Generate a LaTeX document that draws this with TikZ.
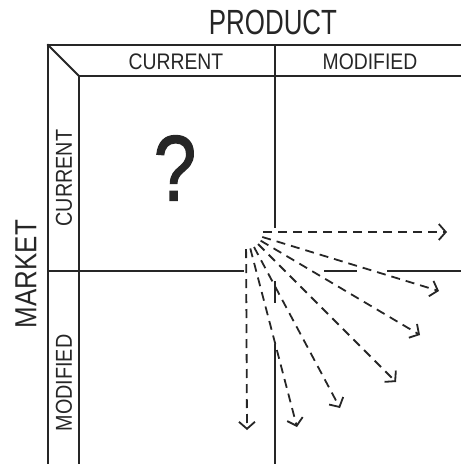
\documentclass[tikz,border=0pt]{standalone}
\usepackage{fontspec}
\setmainfont{Liberation Sans}
\newfontfamily\qfont[FakeBold=1.6]{Liberation Sans}
\usetikzlibrary{arrows.meta,calc}
\definecolor{ink}{HTML}{262626}
\begin{document}
\begin{tikzpicture}[x=1pt,y=-1pt,
  grid/.style={draw=ink,line width=2pt,line cap=rect},
  lbl/.style={text=ink,inner sep=0pt,anchor=center},
  fan/.style={draw=ink,line width=1.8pt,dash pattern=on 9pt off 6pt,
    -{Straight Barb[length=7pt,width=16pt,line width=1.8pt]}}]
\useasboundingbox (0,0) rectangle (461,464);
% frame coordinates
\coordinate (otl) at (48,45);
\coordinate (otr) at (461,45);
\coordinate (obl) at (48,464);
\coordinate (itl) at (79,76);
\coordinate (itr) at (461,76);
\coordinate (ibl) at (79,464);
\coordinate (ct) at (275,45);
\coordinate (cb) at (275,464);
\coordinate (c1) at (275,227);
\coordinate (c2) at (275,282);
\coordinate (c3) at (275,302);
\coordinate (c4) at (275,345);
\coordinate (rl) at (48,271);
\coordinate (rr) at (461,271);
\coordinate (r1) at (243,271);
\coordinate (r2) at (325,271);
\coordinate (r3) at (356,271);
\coordinate (r4) at (388,271);
\draw[grid] (obl) -- (otl) -- (otr);
\draw[grid] (ibl) -- (itl) -- (itr);
\draw[grid] (otl) -- (itl);
\draw[grid] (ct) -- (c1);
\draw[grid] (c2) -- (c3);
\draw[grid] (c4) -- (cb);
\draw[grid] (rl) -- (r1);
\draw[grid] (r2) -- (r3);
\draw[grid] (r4) -- (rr);
% labels
\node[lbl] (product) at (273,22) {\scalebox{0.74}[1]{\fontsize{35}{40}\selectfont PRODUCT}};
\node[lbl,rotate=90] (market) at (26,274) {\scalebox{0.85}[1]{\fontsize{30.5}{34}\selectfont MARKET}};
\node[lbl] (pcur) at (176,62) {\scalebox{0.86}[1]{\fontsize{22.5}{26}\selectfont CURRENT}};
\node[lbl] (pmod) at (370,62) {\scalebox{0.86}[1]{\fontsize{22.5}{26}\selectfont MODIFIED}};
\node[lbl,rotate=90] (mcur) at (64,178) {\scalebox{0.86}[1]{\fontsize{23}{26}\selectfont CURRENT}};
\node[lbl,rotate=90] (mmod) at (64,383) {\scalebox{0.86}[1]{\fontsize{23}{26}\selectfont MODIFIED}};
\node[lbl] (q) at (175,168) {\scalebox{0.82}[1]{\qfont\fontsize{93}{100}\selectfont ?}};
% fan of arrows
\coordinate (c) at (246,232);
\coordinate (t1) at (447,232);
\coordinate (t2) at (439,291);
\coordinate (t3) at (420,335);
\coordinate (t4) at (396,382);
\coordinate (t5) at (340,408);
\coordinate (t6) at (297,427);
\coordinate (t7) at (247,430);
\foreach \t in {t1,t2,t3,t4,t5,t6,t7}
  \draw[fan] ($(c)!17pt!(\t)$) -- (\t);
\end{tikzpicture}
\end{document}
